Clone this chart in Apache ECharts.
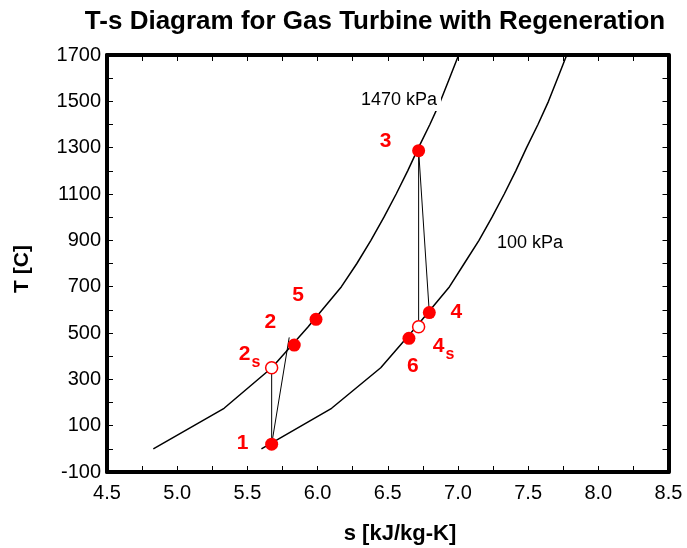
<!DOCTYPE html>
<html>
<head>
<meta charset="utf-8">
<script src="https://cdn.jsdelivr.net/npm/echarts@6/dist/echarts.min.js"></script>
<style>html,body{margin:0;padding:0;background:#fff}#c{width:687px;height:548px}</style>
</head>
<body>
<div id="c"></div>
<script>
// Isobar data: temperature [C] and entropy [kJ/kg-K]
const isobarT = [0, 175, 350, 525, 700, 800, 900, 1000, 1100, 1200, 1300, 1400, 1500, 1600, 1700, 1800];
const s1470 = [4.83, 5.334, 5.674, 5.93, 6.17, 6.28, 6.38, 6.473, 6.56, 6.642, 6.719, 6.80, 6.875, 6.94, 7.005, 7.07];
const s100  = [5.60, 6.10, 6.45, 6.70, 6.94, 7.045, 7.15, 7.243, 7.33, 7.412, 7.489, 7.57, 7.645, 7.71, 7.775, 7.84];

// State points
const stateNames = ['1', '2s', '2', '5', '3', '4s', '4', '6'];
const stateS = [5.673, 5.673, 5.834, 5.989, 6.72, 6.72, 6.796, 6.651];
const stateT = [20, 350, 448, 559, 1287, 527, 588, 477];
const stateOpen = [false, true, false, false, false, true, false, false];

// Process lines
const compIdealS = [5.673, 5.673];  const compIdealT = [20, 350];
const compActualS = [5.673, 5.798]; const compActualT = [20, 481];
const turbIdealS = [6.72, 6.72];    const turbIdealT = [1287, 527];
const turbActualS = [6.72, 6.796];  const turbActualT = [1287, 588];

// Axis ticks
const xTickLabels = ['4.5','5.0','5.5','6.0','6.5','7.0','7.5','8.0','8.5'];
const yTickLabels = [-100, 100, 300, 500, 700, 900, 1100, 1300, 1500, 1700];

const FONT = '"Liberation Sans", Arial, Helvetica, sans-serif';
const RED = '#ff0000';
const pairs = (xs, ys) => xs.map((x, i) => [x, ys[i]]);

const labelOffsets = {
  '1': [-29, 0], '2s': [-22, -13], '2': [-24, -22], '5': [-18, -24],
  '3': [-33, -9], '4s': [25, 20], '4': [27, 0], '6': [4, 28]
};

function labelText(n) {
  if (n.length === 2) return '{n|' + n[0] + '}{sub|' + n[1] + '}';
  return '{n|' + n + '}';
}

const chart = echarts.init(document.getElementById('c'), null, {renderer: 'canvas'});

const axisCommon = {
  axisLine: {show: true, onZero: false, lineStyle: {color: '#000', width: 4}},
  axisTick: {show: true, inside: true, length: 6, lineStyle: {color: '#000', width: 1}},
  splitLine: {show: false}
};

const option = {
  animation: false,
  backgroundColor: '#fff',
  grid: {left: 107, right: 18.5, top: 55, bottom: 76, containLabel: false},
  xAxis: [
    Object.assign({
      type: 'value', min: 4.5, max: 8.5, interval: 0.25, position: 'bottom',
      axisLabel: {
        show: true, margin: 11, color: '#000', fontSize: 20, fontFamily: FONT,
        formatter: v => { const t = v.toFixed(1); return xTickLabels.indexOf(t) >= 0 && Math.abs(v * 2 - Math.round(v * 2)) < 1e-6 ? t : ''; }
      }
    }, axisCommon),
    Object.assign({
      type: 'value', min: 4.5, max: 8.5, interval: 0.25, position: 'top',
      axisLabel: {show: false}
    }, axisCommon)
  ],
  yAxis: [
    Object.assign({
      type: 'value', min: -100, max: 1700, interval: 100, position: 'left',
      axisLabel: {
        show: true, margin: 6, color: '#000', fontSize: 20, fontFamily: FONT,
        formatter: v => yTickLabels.indexOf(Math.round(v)) >= 0 ? String(Math.round(v)) : ''
      }
    }, axisCommon),
    Object.assign({
      type: 'value', min: -100, max: 1700, interval: 100, position: 'right',
      axisLabel: {show: false}
    }, axisCommon)
  ],
  series: [
    {
      type: 'line', name: '1470 kPa', data: pairs(s1470, isobarT), showSymbol: false, clip: true,
      lineStyle: {color: '#000', width: 1.5}, z: 2, silent: true
    },
    {
      type: 'line', name: '100 kPa', data: pairs(s100, isobarT), showSymbol: false, clip: true,
      lineStyle: {color: '#000', width: 1.5}, z: 2, silent: true
    },
    {type: 'line', data: pairs(compIdealS, compIdealT), showSymbol: false, lineStyle: {color: '#000', width: 1}, z: 3},
    {type: 'line', data: pairs(compActualS, compActualT), showSymbol: false, lineStyle: {color: '#000', width: 1}, z: 3},
    {type: 'line', data: pairs(turbIdealS, turbIdealT), showSymbol: false, lineStyle: {color: '#000', width: 1}, z: 3},
    {type: 'line', data: pairs(turbActualS, turbActualT), showSymbol: false, lineStyle: {color: '#000', width: 1}, z: 3},
    {
      type: 'scatter', z: 5,
      itemStyle: {opacity: 1},
      data: stateNames.map((n, i) => ({
        name: n, value: [stateS[i], stateT[i]],
        symbolSize: stateOpen[i] ? 12 : 13,
        itemStyle: stateOpen[i]
          ? {color: '#fff', borderColor: RED, borderWidth: 1.5, opacity: 1}
          : {color: RED, borderColor: RED, borderWidth: 0, opacity: 1},
        label: {
          show: true, position: 'inside', offset: labelOffsets[n], opacity: 1,
          formatter: labelText(n),
          rich: {
            n: {fontSize: 21, fontWeight: 'bold', color: RED, fontFamily: FONT, verticalAlign: 'top', lineHeight: 22},
            sub: {fontSize: 16, fontWeight: 'bold', color: RED, fontFamily: FONT, verticalAlign: 'top', lineHeight: 16, padding: [11, 0, 0, 1]}
          }
        }
      }))
    }
  ],
  graphic: [
    {type: 'text', x: 375, y: 22, z: 10,
     style: {text: 'T-s Diagram for Gas Turbine with Regeneration', fill: '#000', font: 'bold 26px ' + FONT, textAlign: 'center', textVerticalAlign: 'middle'}},
    {type: 'text', x: 400, y: 534, z: 10,
     style: {text: 's [kJ/kg-K]', fill: '#000', font: 'bold 22px ' + FONT, textAlign: 'center', textVerticalAlign: 'middle'}},
    {type: 'text', x: 22, y: 269, rotation: Math.PI / 2, z: 10,
     style: {text: 'T [C]', fill: '#000', font: 'bold 21px ' + FONT, textAlign: 'center', textVerticalAlign: 'middle'}},
    {type: 'text', x: 399, y: 100, z: 10,
     style: {text: '1470 kPa', fill: '#000', font: '18px ' + FONT, textAlign: 'center', textVerticalAlign: 'middle', backgroundColor: '#fff', padding: [2, 4]}},
    {type: 'text', x: 530, y: 243, z: 10,
     style: {text: '100 kPa', fill: '#000', font: '18px ' + FONT, textAlign: 'center', textVerticalAlign: 'middle'}}
  ]
};
chart.setOption(option);
</script>
</body>
</html>
